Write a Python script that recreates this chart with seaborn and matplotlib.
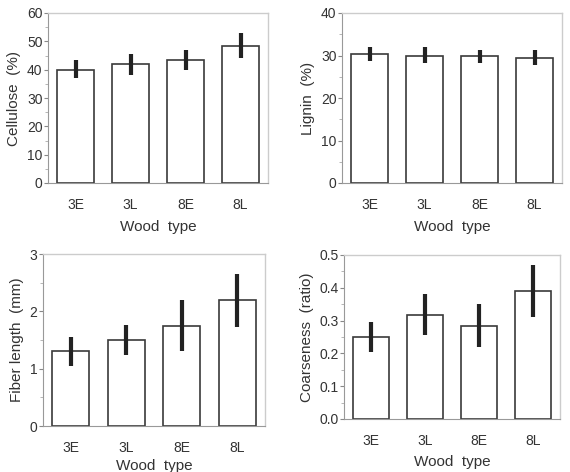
import numpy as np
import pandas as pd
import seaborn as sns
import matplotlib.pyplot as plt
from matplotlib.ticker import MultipleLocator

# data
wood_types = ["3E", "3L", "8E", "8L"]

cellulose = [40.0, 42.0, 43.5, 48.5]
cellulose_lo = [37.0, 38.0, 40.0, 44.0]
cellulose_hi = [43.5, 45.5, 47.0, 53.0]

lignin = [30.3, 30.0, 29.8, 29.5]
lignin_lo = [28.8, 28.2, 28.3, 27.8]
lignin_hi = [32.0, 32.0, 31.3, 31.4]

fiber_length = [1.30, 1.50, 1.75, 2.20]
fiber_lo = [1.05, 1.23, 1.30, 1.73]
fiber_hi = [1.55, 1.77, 2.20, 2.65]

coarseness = [0.250, 0.317, 0.285, 0.390]
coarse_lo = [0.205, 0.255, 0.220, 0.310]
coarse_hi = [0.295, 0.380, 0.350, 0.470]

sns.set_style("white")
plt.rcParams['font.family'] = ['Liberation Sans', 'DejaVu Sans']
txt = "#333333"

fig = plt.figure(figsize=(5.7, 4.72), dpi=100)

panels = [
    # rect, values, lo, hi, ylabel, ylim, major, yfmt, xlabel pad
    ([48/570, 289/472, 220/570, 170/472], cellulose, cellulose_lo, cellulose_hi,
     "Cellulose  (%)", (0, 60), 10, "{:.0f}", 6),
    ([342/570, 289/472, 220/570, 170/472], lignin, lignin_lo, lignin_hi,
     "Lignin  (%)", (0, 40), 10, "{:.0f}", 6),
    ([43/570, 46/472, 222/570, 172/472], fiber_length, fiber_lo, fiber_hi,
     "Fiber length  (mm)", (0, 3), 1, "{:.0f}", 3),
    ([344/570, 53/472, 216/570, 164/472], coarseness, coarse_lo, coarse_hi,
     "Coarseness  (ratio)", (0, 0.5), 0.1, "{:.1f}", 5),
]

for rect, vals, lo, hi, ylab, ylim, major, fmt, xpad in panels:
    ax = fig.add_axes(rect)
    df = pd.DataFrame({"Wood type": wood_types, "value": vals})
    sns.barplot(data=df, x="Wood type", y="value", color="white",
                edgecolor="#3a3a3a", linewidth=1.2, width=0.66,
                errorbar=None, ax=ax)
    pos = np.arange(len(wood_types))
    ax.vlines(pos, lo, hi, colors="#222222", linewidth=3, zorder=5)

    ax.set_ylim(*ylim)
    ax.set_xlim(-0.5, len(wood_types) - 0.5)
    ax.yaxis.set_major_locator(MultipleLocator(major))
    ax.yaxis.set_minor_locator(MultipleLocator(major / 2))
    ax.set_yticks(ax.get_yticks())
    ax.set_yticklabels([fmt.format(t) for t in ax.get_yticks()])
    ax.set_ylim(*ylim)

    ax.tick_params(axis="y", which="major", left=True, length=3, width=0.8,
                   color="#888888", labelsize=10, labelcolor=txt, pad=1)
    ax.tick_params(axis="y", which="minor", left=True, length=2, width=0.6,
                   color="#aaaaaa")
    ax.tick_params(axis="x", bottom=False, labelsize=10, labelcolor=txt, pad=7)

    for side in ["top", "right"]:
        ax.spines[side].set_color("#cccccc")
        ax.spines[side].set_linewidth(1.0)
    ax.spines["left"].set_color("#999999")
    ax.spines["bottom"].set_color("#999999")

    ax.set_ylabel(ylab, fontsize=11, color=txt, labelpad=4)
    ax.set_xlabel("Wood  type", fontsize=11, color=txt, labelpad=xpad)

fig.savefig("out.png", dpi=100)
